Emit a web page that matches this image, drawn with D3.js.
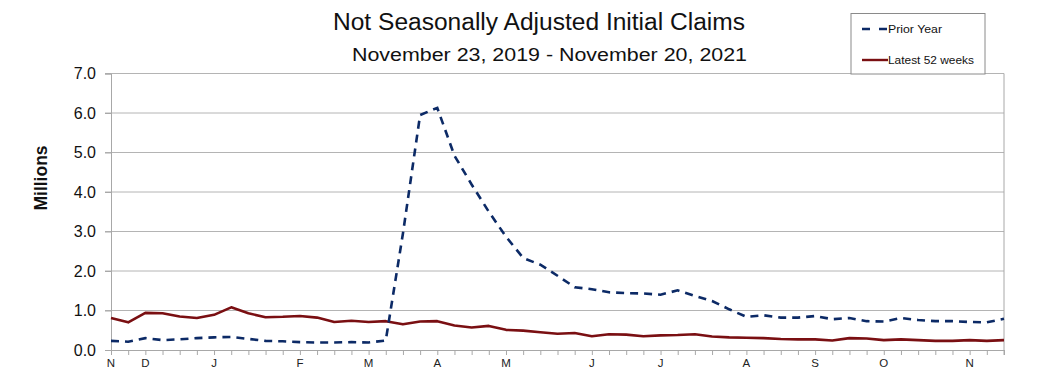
<!DOCTYPE html>
<html><head><meta charset="utf-8">
<script src="https://cdn.jsdelivr.net/npm/d3@7"></script>
<style>body{margin:0;background:#fff}svg{display:block;font-family:"Liberation Sans",Arial,sans-serif}</style>
</head><body><svg id="c" width="1054" height="389"></svg>
<script>
const weeks = d3.range(53);
const monthLabels = [[0,"N"],[2,"D"],[6,"J"],[11,"F"],[15,"M"],[19,"A"],[23,"M"],[28,"J"],[32,"J"],[37,"A"],[41,"S"],[45,"O"],[50,"N"]];
const yTicks = [0,1,2,3,4,5,6,7];
const priorYear = [0.23,0.21,0.30,0.25,0.27,0.30,0.32,0.33,0.28,0.23,0.22,0.20,0.19,0.19,0.20,0.19,0.24,
  2.95,5.95,6.13,4.92,4.19,3.50,2.87,2.33,2.16,1.88,1.59,1.54,1.46,1.44,1.43,1.40,1.51,1.37,
  1.24,1.03,0.84,0.88,0.82,0.82,0.86,0.78,0.81,0.73,0.72,0.81,0.76,0.73,0.73,0.71,0.70,0.79];
const latest52 = [0.81,0.70,0.94,0.93,0.85,0.81,0.89,1.08,0.93,0.83,0.84,0.86,0.82,0.71,0.74,0.71,0.73,
  0.65,0.72,0.73,0.62,0.57,0.61,0.51,0.49,0.45,0.41,0.43,0.35,0.40,0.39,0.35,0.37,0.38,0.40,
  0.34,0.32,0.31,0.30,0.28,0.27,0.27,0.24,0.30,0.29,0.25,0.27,0.25,0.23,0.23,0.25,0.23,0.25];

const svg = d3.select("#c");
const L = 111, R = 1004, T = 73.5, B = 350;
const x = d3.scaleLinear().domain([0,52]).range([L,R]);
const y = d3.scaleLinear().domain([0,7]).range([B,T]);

// gridlines
svg.append("g").selectAll("line").data(yTicks.filter(d=>d>0)).join("line")
  .attr("x1",105).attr("x2",R).attr("y1",d=>y(d)).attr("y2",d=>y(d))
  .attr("stroke","#b4b4b4").attr("stroke-width",1);
// y axis
const ya = svg.append("g").attr("transform",`translate(${L},0)`)
  .call(d3.axisLeft(y).tickValues(yTicks).tickFormat(d3.format(".1f")).tickSize(6).tickPadding(9));
ya.select(".domain").attr("stroke","#a8a8a8");
ya.selectAll(".tick line").attr("stroke","#a8a8a8");
ya.selectAll("text").attr("font-size",16).attr("fill","#111").attr("font-family","Liberation Sans, Arial, sans-serif");
// right border
svg.append("line").attr("x1",R).attr("x2",R).attr("y1",T).attr("y2",B+5).attr("stroke","#a8a8a8");
// x axis
const xa = svg.append("g").attr("transform",`translate(0,${B})`)
  .call(d3.axisBottom(x).tickValues(weeks).tickFormat("").tickSize(5));
xa.select(".domain").attr("stroke","#a8a8a8");
xa.selectAll(".tick line").attr("stroke","#a8a8a8");
svg.append("g").selectAll("text").data(monthLabels).join("text")
  .attr("x",d=>x(d[0])).attr("y",367).attr("text-anchor","middle")
  .attr("font-size",11.5).attr("fill","#222").text(d=>d[1]);

const line = d3.line().x((d,i)=>x(i)).y(d=>y(d));
svg.append("path").datum(latest52).attr("d",line).attr("fill","none")
  .attr("stroke","#7a0f12").attr("stroke-width",2.6).attr("stroke-linejoin","round");
svg.append("path").datum(priorYear).attr("d",line).attr("fill","none")
  .attr("stroke","#0c2a66").attr("stroke-width",2.6).attr("stroke-dasharray","8,6");

// titles
svg.append("text").attr("x",333).attr("y",30)
  .attr("font-size",23.5).attr("fill","#111")
  .attr("textLength",412).attr("lengthAdjust","spacingAndGlyphs")
  .text("Not Seasonally Adjusted Initial Claims");
svg.append("text").attr("x",352).attr("y",61)
  .attr("font-size",17.5).attr("fill","#111")
  .attr("textLength",395).attr("lengthAdjust","spacingAndGlyphs")
  .text("November 23, 2019 - November 20, 2021");
svg.append("text").attr("transform","translate(47,178) rotate(-90)").attr("text-anchor","middle")
  .attr("font-size",17.5).attr("font-weight","bold").attr("fill","#111").text("Millions");

// legend
const lg = svg.append("g");
lg.append("rect").attr("x",851).attr("y",13.5).attr("width",134).attr("height",60.5)
  .attr("fill","#fff").attr("stroke","#8a8a8a");
lg.append("line").attr("x1",862).attr("x2",888).attr("y1",29).attr("y2",29)
  .attr("stroke","#0c2a66").attr("stroke-width",2.4).attr("stroke-dasharray","8,9");
lg.append("text").attr("x",888).attr("y",32.5).attr("font-size",10.5).attr("fill","#111")
  .attr("textLength",54).attr("lengthAdjust","spacingAndGlyphs").text("Prior Year");
lg.append("line").attr("x1",862).attr("x2",888).attr("y1",60).attr("y2",60)
  .attr("stroke","#7a0f12").attr("stroke-width",2.4);
lg.append("text").attr("x",888).attr("y",63.5).attr("font-size",10.5).attr("fill","#111")
  .attr("textLength",86).attr("lengthAdjust","spacingAndGlyphs").text("Latest 52 weeks");
</script></body></html>
